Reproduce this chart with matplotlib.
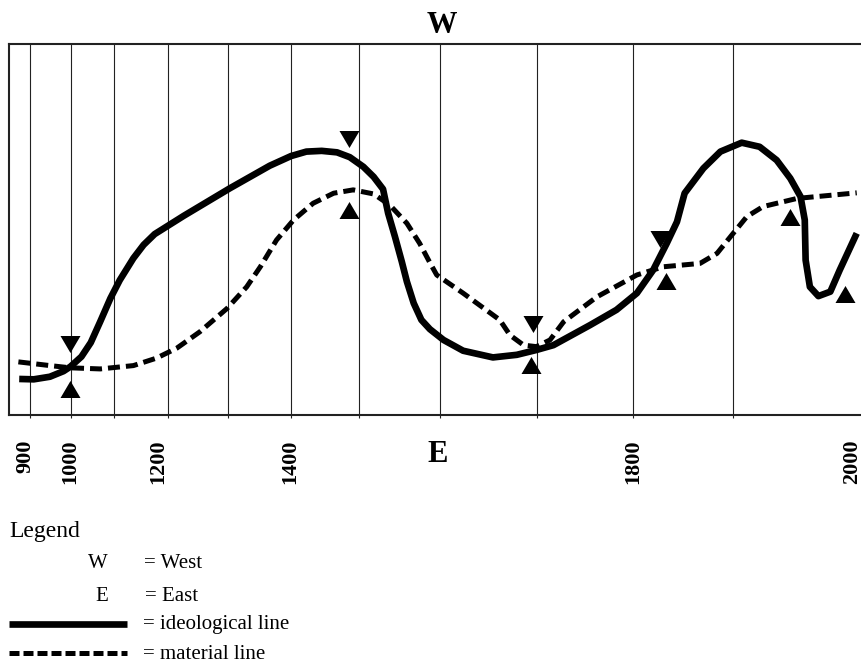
"""
Schematic of ideological and material lines, West (top) vs East (bottom),
over an uneven time axis running from 900 to 2000.

Positions are given on a 0-100 scale across the frame,
levels on a 0-100 scale from bottom (East) to top (West).
"""

import matplotlib.pyplot as plt
from matplotlib.lines import Line2D

plt.rcParams["font.family"] = ["Liberation Serif", "DejaVu Serif"]

# ---------------------------------------------------------------------
# Data
# ---------------------------------------------------------------------

# ideological line (solid)
ideal_x = [1.2, 2.9, 4.8, 6.4, 7.2, 8.5, 9.6, 10.7, 11.9, 13.0, 14.6, 15.8,
           17.1, 20.5, 25.9, 30.6, 33.1, 34.9, 36.7, 38.5, 40.0, 41.6, 42.8,
           43.9, 44.5, 45.3, 46.1, 46.7, 47.5, 48.4, 49.4, 51.0, 53.3, 56.8,
           59.6, 61.9, 63.9, 68.2, 71.3, 73.7, 75.6, 77.2, 78.4, 79.3, 81.5,
           83.5, 86.0, 88.1, 90.1, 91.7, 92.9, 93.4, 93.5, 94.0, 95.0, 96.4,
           97.5, 99.5]
ideal_y = [9.7, 9.6, 10.3, 11.8, 13.0, 15.7, 19.5, 25.1, 31.4, 36.3, 42.2, 45.8,
           48.7, 53.6, 61.0, 67.1, 69.7, 70.9, 71.1, 70.7, 69.4, 66.8, 64.1,
           60.8, 54.3, 48.0, 41.3, 35.9, 30.1, 25.6, 23.1, 20.2, 17.3, 15.5,
           16.2, 17.5, 18.8, 24.2, 28.3, 32.8, 39.0, 46.2, 52.0, 59.7, 66.4,
           70.9, 73.3, 72.2, 68.6, 63.7, 58.8, 52.5, 41.7, 34.5, 32.0, 33.2,
           39.0, 48.9]

# material line (dashed)
material_x = [1.1, 4.8, 7.2, 10.7, 14.6, 17.3, 19.7, 22.4, 25.6, 27.9, 29.5,
              31.4, 33.4, 35.7, 38.1, 40.4, 42.8, 44.7, 46.7, 48.2, 49.4, 50.2,
              53.3, 57.6, 58.8, 60.4, 61.9, 63.5, 65.1, 69.0, 73.7, 76.8, 81.1,
              83.1, 85.0, 86.6, 88.5, 92.5, 99.5]
material_y = [14.3, 13.3, 12.7, 12.4, 13.3, 15.3, 18.0, 22.4, 28.7, 34.5, 39.9,
              47.1, 52.5, 57.0, 59.7, 60.6, 59.5, 56.5, 51.6, 46.2, 41.0, 37.7,
              32.8, 25.6, 21.5, 18.8, 18.4, 20.2, 25.1, 31.8, 37.7, 39.9, 40.8,
              43.5, 48.9, 53.4, 56.1, 58.3, 59.8]

# turning-point arrows
down_x = [7.2, 39.9, 61.5, 76.4]
down_y = [19.2, 74.3, 24.5, 47.4]
up_x = [7.2, 39.9, 61.3, 77.1, 91.7, 98.1]
up_y = [7.1, 55.2, 13.5, 36.1, 53.4, 32.7]

# time axis
grid_pos = [2.46, 7.24, 12.32, 18.63, 25.70, 33.06, 41.12, 50.59, 61.94,
            73.20, 85.01]
year_pos = [1.88, 7.16, 17.49, 32.98, 73.24, 98.9]
year_labels = ["900", "1000", "1200", "1400", "1800", "2000"]

# ---------------------------------------------------------------------
# Figure
# ---------------------------------------------------------------------

W, H = 861, 663
fig = plt.figure(figsize=(W / 100, H / 100), dpi=100)
ax = fig.add_axes([9 / W, 248 / H, 852 / W, 371.5 / H])
ax.set_xlim(0, 100)
ax.set_ylim(0, 100)

# vertical grid lines with small ticks below the frame
ax.set_xticks(grid_pos, minor=True)
ax.grid(True, which="minor", axis="x", color="#222222", linewidth=0.8)
ax.tick_params(which="minor", direction="out", length=2, width=0.8,
               color="#222222")

# year labels
ax.set_xticks(year_pos, year_labels)
ax.tick_params(which="major", length=0, pad=18, labelsize=16,
               labelrotation=90)
for lab in ax.get_xticklabels():
    lab.set_fontweight("bold")
ax.set_yticks([])

for side in ["left", "top", "bottom"]:
    ax.spines[side].set_linewidth(1.5)
    ax.spines[side].set_color("#222222")
ax.spines["right"].set_visible(False)

# lines
ax.plot(material_x, material_y, color="black", linewidth=3.6,
        dashes=(2.4, 1.2), zorder=3)
ax.plot(ideal_x, ideal_y, color="black", linewidth=4.8,
        solid_joinstyle="round", solid_capstyle="butt", zorder=4)

# arrows
down_tri = [(-1, 0.85), (1, 0.85), (0, -0.85)]
up_tri = [(-1, -0.85), (1, -0.85), (0, 0.85)]
ax.plot(down_x, down_y, linestyle="none", marker=down_tri, markersize=14.4,
        color="black", markeredgewidth=0, zorder=5)
ax.plot(up_x, up_y, linestyle="none", marker=up_tri, markersize=14.4,
        color="black", markeredgewidth=0, zorder=5)

# W / E
fig.text(442 / W, 1 - 33 / H, "W", ha="center", va="baseline",
         fontsize=22, fontweight="bold")
ax.set_xlabel("E", fontsize=22, fontweight="bold")
ax.xaxis.set_label_coords(429 / 852, -25 / 371.5)

# ---------------------------------------------------------------------
# Legend
# ---------------------------------------------------------------------

fig.text(9 / W, 1 - 537 / H, "Legend", fontsize=17, va="baseline")
fig.text(97.5 / W, 1 - 568 / H, "W", fontsize=15, ha="center", va="baseline")
fig.text(144 / W, 1 - 568 / H, "= West", fontsize=15, va="baseline")
fig.text(101.5 / W, 1 - 601 / H, "E", fontsize=15, ha="center", va="baseline")
fig.text(145 / W, 1 - 601 / H, "= East", fontsize=15, va="baseline")

fig.add_artist(Line2D([9 / W, 127 / W], [1 - 624 / H, 1 - 624 / H],
                      transform=fig.transFigure, color="black",
                      linewidth=4.8, solid_capstyle="butt"))
fig.text(143 / W, 1 - 629 / H, "= ideological line", fontsize=15,
         va="baseline")

fig.add_artist(Line2D([9 / W, 127 / W], [1 - 653 / H, 1 - 653 / H],
                      transform=fig.transFigure, color="black",
                      linewidth=3.6, dashes=(2.0, 0.8)))
fig.text(143 / W, 1 - 659 / H, "= material line", fontsize=15,
         va="baseline")

fig.savefig("out.png", dpi=100)
